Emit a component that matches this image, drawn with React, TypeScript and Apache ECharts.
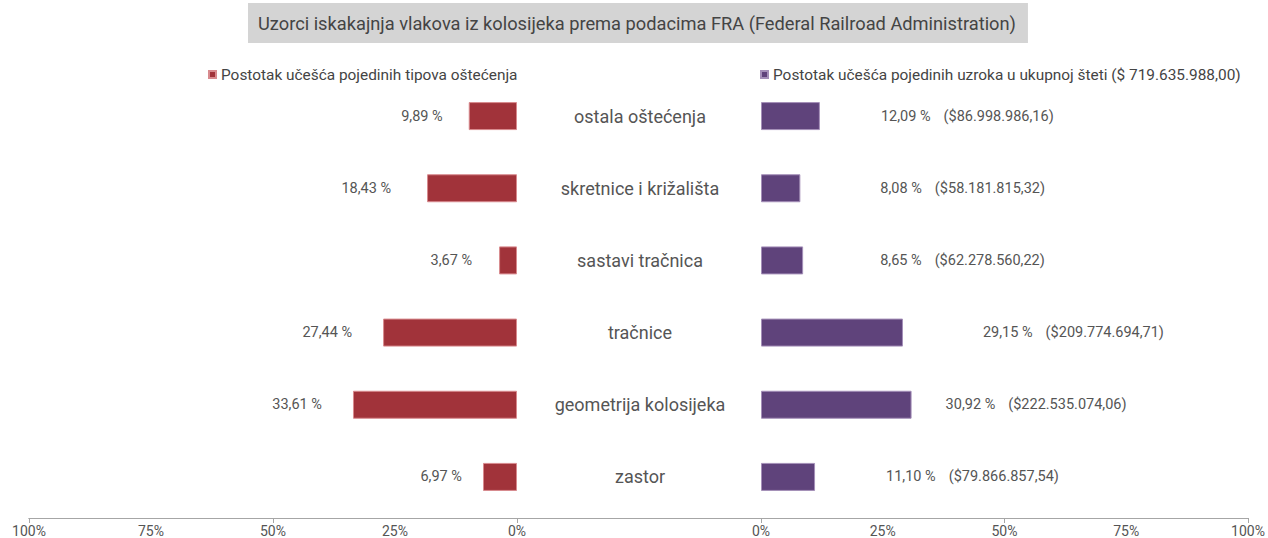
import React, { useEffect, useRef } from "react";
import * as echarts from "echarts";

const categories = [
  "ostala oštećenja",
  "skretnice i križališta",
  "sastavi tračnica",
  "tračnice",
  "geometrija kolosijeka",
  "zastor",
];
const damageShare = [9.89, 18.43, 3.67, 27.44, 33.61, 6.97];
const costShare = [12.09, 8.08, 8.65, 29.15, 30.92, 11.1];
const costAmount = [
  86998986.16, 58181815.32, 62278560.22, 209774694.71, 222535074.06, 79866857.54,
];
const axisTicks = [0, 50, 100];
const leftSeriesName = "Postotak učešća pojedinih tipova oštećenja";
const rightSeriesName = "Postotak učešća pojedinih uzroka u ukupnoj šteti ($ 719.635.988,00)";
const titleText =
  "Uzorci iskakajnja vlakova iz kolosijeka prema podacima FRA (Federal Railroad Administration)";

// label gaps (styling)
const leftLabelGap = [26, 36, 27, 31, 31, 21];
const rightLabelGap = [61, 80, 77, 80, 34, 71];

const RED = "#a1333a";
const PURPLE = "#5f437b";
const TEXT = "#555555";
const FONT = "Roboto, 'Noto Sans', sans-serif";

const fmtPct = (v: number) => v.toFixed(2).replace(".", ",");
const fmtMoney = (v: number) => {
  const [i, d] = v.toFixed(2).split(".");
  return i.replace(/\B(?=(\d{3})+(?!\d))/g, ".") + "," + d;
};

export default function App() {
  const ref = useRef<HTMLDivElement>(null);
  useEffect(() => {
    document.body.style.margin = "0";
    const chart = echarts.init(ref.current!, undefined, { renderer: "svg" });
    const gridTop = 80;
    const gridH = 433;
    const valueAxisBase = (gridIndex: number, inverse: boolean) => ({
      type: "value",
      gridIndex,
      min: 0,
      max: 100,
      interval: 25,
      inverse,
      offset: 5,
      splitLine: { show: false },
      axisLine: { show: true, lineStyle: { color: "#a6a6a6", width: 1 } },
      axisTick: {
        show: true,
        customValues: axisTicks,
        length: 5,
        lineStyle: { color: "#a6a6a6" },
      },
      axisLabel: {
        color: TEXT,
        fontFamily: FONT,
        fontSize: 14,
        margin: 6,
        formatter: (v: number) => v + "%",
      },
    });
    const legendText = { color: "#444", fontSize: 15.4, fontFamily: FONT };
    const option: any = {
      animation: false,
      textStyle: { fontFamily: FONT },
      title: {
        text: titleText,
        left: 248,
        top: 3,
        padding: [11, 12, 11, 10],
        backgroundColor: "#d4d4d4",
        textStyle: { color: "#444", fontSize: 18.25, fontWeight: "normal", fontFamily: FONT },
      },
      legend: [
        {
          data: [leftSeriesName],
          left: 203,
          top: 62,
          icon: "rect",
          itemWidth: 7,
          itemHeight: 7,
          textStyle: legendText,
        },
        {
          data: [rightSeriesName],
          left: 755,
          top: 62,
          icon: "rect",
          itemWidth: 7,
          itemHeight: 7,
          textStyle: legendText,
        },
      ],
      grid: [
        { left: 29, width: 488, top: gridTop, height: gridH },
        { left: 761, width: 487, top: gridTop, height: gridH },
        { left: 29, width: 1219, top: gridTop, height: gridH },
      ],
      xAxis: [
        valueAxisBase(0, true),
        valueAxisBase(1, false),
        {
          type: "value",
          gridIndex: 2,
          min: 0,
          max: 100,
          offset: 5,
          axisLine: { show: true, lineStyle: { color: "#a6a6a6", width: 1 } },
          axisTick: { show: false },
          axisLabel: { show: false },
          splitLine: { show: false },
        },
      ],
      yAxis: [
        {
          type: "category",
          gridIndex: 0,
          data: categories,
          inverse: true,
          position: "right",
          axisLine: { show: false },
          axisTick: { show: false },
          axisLabel: {
            align: "center",
            margin: 123,
            color: TEXT,
            fontSize: 18,
            fontFamily: FONT,
          },
        },
        {
          type: "category",
          gridIndex: 1,
          data: categories,
          inverse: true,
          show: false,
        },
        {
          type: "category",
          gridIndex: 2,
          data: categories,
          show: false,
        },
      ],
      series: [
        {
          name: leftSeriesName,
          type: "bar",
          xAxisIndex: 0,
          yAxisIndex: 0,
          barWidth: 28,
          itemStyle: { color: RED, borderColor: "#d88a8e", borderWidth: 1 },
          data: damageShare.map((v, i) => ({
            value: v,
            label: { distance: leftLabelGap[i] },
          })),
          label: {
            show: true,
            position: "left",
            color: TEXT,
            fontSize: 14.5,
            fontFamily: FONT,
            formatter: (p: any) => fmtPct(p.value) + " %",
          },
        },
        {
          name: rightSeriesName,
          type: "bar",
          xAxisIndex: 1,
          yAxisIndex: 1,
          barWidth: 28,
          itemStyle: { color: PURPLE, borderColor: "#a48fb8", borderWidth: 1 },
          data: costShare.map((v, i) => ({
            value: v,
            label: { distance: rightLabelGap[i] },
          })),
          label: {
            show: true,
            position: "right",
            color: TEXT,
            fontSize: 14.5,
            fontFamily: FONT,
            formatter: (p: any) =>
              `{a|${fmtPct(p.value)} %}{b|($${fmtMoney(costAmount[p.dataIndex])})}`,
            rich: {
              a: { color: TEXT, fontSize: 14.5, fontFamily: FONT },
              b: { color: TEXT, fontSize: 14.5, fontFamily: FONT, padding: [0, 0, 0, 13] },
            },
          },
        },
      ],
    };
    chart.setOption(option);
    return () => chart.dispose();
  }, []);
  return <div ref={ref} style={{ width: 1268, height: 538 }} />;
}
